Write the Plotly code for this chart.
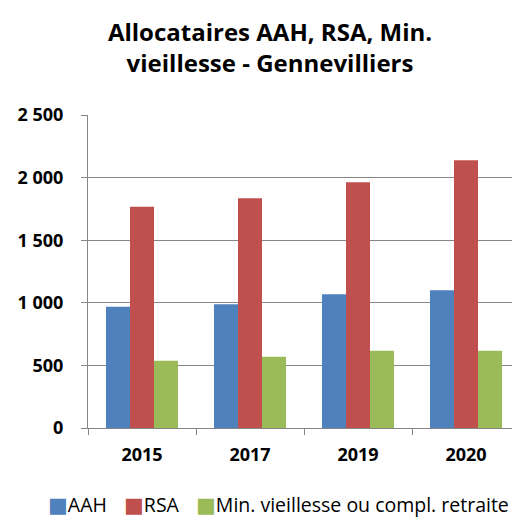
import plotly.graph_objects as go

years = ["2015", "2017", "2019", "2020"]
aah = [969, 988, 1068, 1100]
rsa = [1768, 1835, 1963, 2138]
minv = [538, 570, 617, 617]
series_names = ["AAH", "RSA", "Min. vieillesse ou compl. retraite"]
colors = ["#4F81BD", "#C0504D", "#9BBB59"]
ytick_vals = [0, 500, 1000, 1500, 2000, 2500]
ytick_text = ["0", "500", "1 000", "1 500", "2 000", "2 500"]

font_family = "Open Sans, sans-serif"
W, H = 512, 510
ML, MR, MT, MB = 80, 0, 107, 90
plot_w = W - ML - MR
plot_h = H - MT - MB

fig = go.Figure()
for name, vals, col in zip(series_names, [aah, rsa, minv], colors):
    fig.add_trace(go.Bar(x=years, y=vals, name=name, marker_color=col,
                         marker_line_width=0))

# legend drawn as text annotations (compact Excel-like legend)
legend_px = [38, 114, 186]
for name, col, px in zip(series_names, colors, legend_px):
    fig.add_annotation(
        text=f'<span style="color:{col};font-family:DejaVu Sans;font-size:21px">■</span>{name}',
        xref="paper", yref="paper", x=(px - ML) / plot_w, y=-(496 - (H - MB)) / plot_h,
        xanchor="left", yanchor="middle", showarrow=False,
        font=dict(size=19.5, family=font_family, color="#000000"))

fig.update_layout(
    width=W, height=H,
    margin=dict(l=ML, r=MR, t=MT, b=MB),
    paper_bgcolor="white", plot_bgcolor="white",
    barmode="group", bargap=0.333, bargroupgap=0,
    font=dict(family=font_family, color="#000000", size=17),
    title=dict(text="<b>Allocataires AAH, RSA, Min.<br>vieillesse - Gennevilliers</b>",
               x=262 / W, xanchor="center", yref="container", y=1 - 33 / H, yanchor="middle",
               font=dict(size=24, family=font_family)),
    showlegend=False,
)
fig.update_xaxes(showline=True, linecolor="#868686", linewidth=1,
                 ticks="outside", tickson="boundaries", ticklen=6, tickcolor="#868686",
                 ticklabelstandoff=10,
                 tickfont=dict(size=18, family=font_family, weight="bold"))
fig.update_yaxes(range=[0, 2500], tickvals=ytick_vals, ticktext=ytick_text,
                 showline=True, linecolor="#868686", linewidth=1,
                 ticks="outside", ticklen=6, tickcolor="#868686",
                 ticklabelstandoff=14,
                 showgrid=True, gridcolor="#868686", gridwidth=1, zeroline=False,
                 tickfont=dict(size=18, family=font_family, weight="bold"))

fig.write_html("out.html")
